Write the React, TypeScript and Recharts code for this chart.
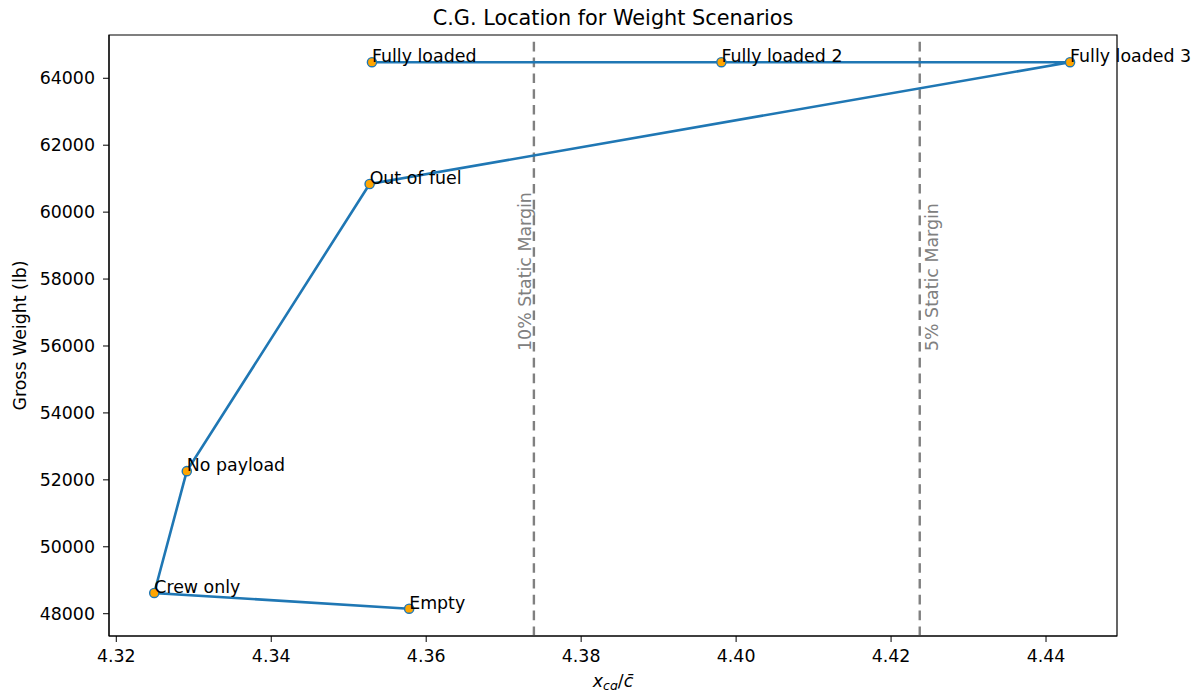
import { LineChart, Line, XAxis, YAxis, ReferenceLine, ReferenceArea, ReferenceDot, LabelList } from 'recharts';

const scenarios = ['Empty', 'Crew only', 'No payload', 'Out of fuel', 'Fully loaded 3', 'Fully loaded 2', 'Fully loaded'];
const xcg = [4.3578, 4.3249, 4.3291, 4.3527, 4.4431, 4.3981, 4.353];
const weight = [48150, 48620, 52260, 60840, 64480, 64480, 64480];

const marginLabels = ['10% Static Margin', '5% Static Margin'];
const marginX = [4.3739, 4.4237];
const marginLabelY = 56000;

const xTicks = [4.32, 4.34, 4.36, 4.38, 4.4, 4.42, 4.44];
const yTicks = [48000, 50000, 52000, 54000, 56000, 58000, 60000, 62000, 64000];
const xDomain = [4.31906, 4.44916];
const yDomain = [47334, 65293];

const data = scenarios.map((name, i) => ({ name, x: xcg[i], w: weight[i] }));

const FS = 17.4;

const pointLabel = (p: any) => (
  <text x={p.x} y={p.y} fontSize={FS} fill="#000" textAnchor="start">
    {p.value}
  </text>
);

const titleLabel = (p: any) => {
  const vb = p.viewBox;
  return (
    <text x={vb.x + vb.width / 2} y={vb.y - 10} fontSize={20.8} fill="#000" textAnchor="middle">
      C.G. Location for Weight Scenarios
    </text>
  );
};

const xLabel = (p: any) => {
  const vb = p.viewBox;
  return (
    <text x={vb.x + vb.width / 2} y={vb.y + 51} fontSize={FS} fill="#000" textAnchor="middle" fontStyle="italic">
      <tspan>x</tspan>
      <tspan fontSize={12.5} dy={3}>cg</tspan>
      <tspan dy={-3} fontStyle="normal">/</tspan>
      <tspan>{'c\u0304'}</tspan>
    </text>
  );
};

const yLabel = (p: any) => {
  const vb = p.viewBox;
  const cy = vb.y + vb.height / 2;
  return (
    <text x={25.5} y={cy} fontSize={FS} fill="#000" textAnchor="middle" transform={`rotate(-90, 25.5, ${cy})`}>
      Gross Weight (lb)
    </text>
  );
};

const marginText = (label: string, dx: number) => (p: any) => {
  const tx = p.cx + dx;
  const ty = p.cy + 5;
  return (
    <text x={tx} y={ty} fontSize={FS} fill="#808080" textAnchor="start" transform={`rotate(-90, ${tx}, ${ty})`}>
      {label}
    </text>
  );
};

export default function App() {
  return (
    <div style={{ margin: -8, width: 1203, height: 698, background: '#fff', fontFamily: 'DejaVu Sans' }}>
      <LineChart width={1203} height={698} data={data} margin={{ top: 35, right: 86, bottom: 0, left: 0 }}>
        <XAxis
          type="number"
          dataKey="x"
          domain={xDomain}
          ticks={xTicks}
          interval={0}
          allowDataOverflow
          height={62}
          tickSize={6}
          tickMargin={8}
          stroke="#000"
          tick={{ fill: '#000', fontSize: FS }}
          tickFormatter={(v: number) => v.toFixed(2)}
          label={xLabel}
        />
        <YAxis
          type="number"
          dataKey="w"
          domain={yDomain}
          ticks={yTicks}
          interval={0}
          allowDataOverflow
          width={109}
          tickSize={6}
          tickMargin={8}
          stroke="#000"
          tick={{ fill: '#000', fontSize: FS }}
          label={yLabel}
        />
        <ReferenceArea
          x1={xDomain[0]}
          x2={xDomain[1]}
          y1={yDomain[0]}
          y2={yDomain[1]}
          fill="none"
          fillOpacity={0}
          stroke="#000"
          strokeWidth={1.2}
          label={titleLabel}
        />
        {marginX.map((mx, i) => (
          <ReferenceLine key={'l' + i} x={mx} stroke="#808080" strokeWidth={2.4} strokeDasharray="9.6 6.2" />
        ))}
        {marginX.map((mx, i) => (
          <ReferenceDot
            key={'t' + i}
            x={mx}
            y={marginLabelY}
            r={0}
            shape={marginText(marginLabels[i], i === 0 ? -3 : 18.7)}
          />
        ))}
        <Line
          dataKey="w"
          stroke="#1f77b4"
          strokeWidth={2.6}
          isAnimationActive={false}
          dot={{ r: 4.6, fill: '#FFA500', stroke: '#1f77b4', strokeWidth: 1.4, fillOpacity: 1 }}
          activeDot={false}
        >
          <LabelList dataKey="name" content={pointLabel} />
        </Line>
      </LineChart>
    </div>
  );
}
